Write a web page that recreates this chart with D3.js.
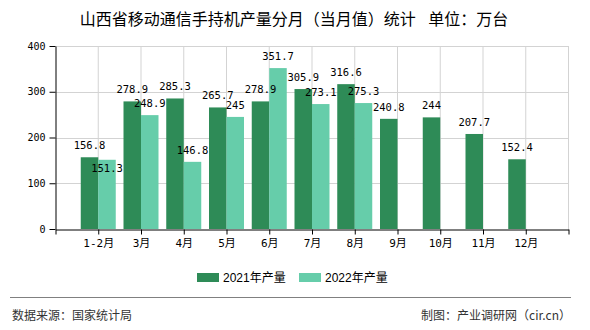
<!DOCTYPE html>
<html>
<head>
<meta charset="utf-8">
<script src="https://cdn.jsdelivr.net/npm/d3@7"></script>
<style>
  html, body { margin: 0; padding: 0; background: #fff; }
  svg { display: block; }
</style>
</head>
<body>
<svg id="chart" width="590" height="330"></svg>
<script>
const categories = ["1-2月","3月","4月","5月","6月","7月","8月","9月","10月","11月","12月"];
const values2021 = [156.8, 278.9, 285.3, 265.7, 278.9, 305.9, 316.6, 240.8, 244, 207.7, 152.4];
const values2022 = [151.3, 248.9, 146.8, 245, 351.7, 273.1, 275.3, null, null, null, null];
const seriesNames = ["2021年产量", "2022年产量"];
const seriesColors = ["#2e8b57", "#66cdaa"];
const yTicks = [0, 100, 200, 300, 400];
const titleParts = ["山西省移动通信手持机产量分月（当月值）统计", " 单位：万台"];
const sourceText = "数据来源：国家统计局";
const creditText = "制图：产业调研网（cir.cn）";

const svg = d3.select("#chart");
const plotL = 55.5, plotR = 568.5, plotT = 46, plotB = 229;

const x = d3.scalePoint().domain(["__s", ...categories, "__e"]).range([plotL, plotR]);
const y = d3.scaleLinear().domain([0, 400]).range([plotB, plotT]);
const sub = d3.scaleBand().domain(seriesNames).range([-17.5, 17.5]).padding(0);

// title
const title = svg.append("text").attr("x", 294).attr("y", 25).attr("text-anchor", "middle")
  .attr("xml:space", "preserve").style("white-space", "pre")
  .style("font-family", "'Noto Sans CJK SC', sans-serif").style("font-size", "16px")
  .attr("fill", "#000");
title.append("tspan").text(titleParts[0]);
title.append("tspan").attr("dx", 9).text(titleParts[1]);

// gridlines
const grid = svg.append("g");
grid.selectAll("line.h").data(yTicks.filter(d => d > 0)).join("line")
  .attr("x1", plotL).attr("x2", plotR)
  .attr("y1", d => Math.round(y(d)) + 0.5).attr("y2", d => Math.round(y(d)) + 0.5)
  .attr("stroke", "#d3d3d3").attr("stroke-width", 1);
grid.selectAll("line.v").data(x.domain().slice(1)).join("line")
  .attr("x1", d => x(d)).attr("x2", d => x(d))
  .attr("y1", plotT).attr("y2", plotB)
  .attr("stroke", "#d3d3d3").attr("stroke-width", 1);

// bars
const rows = categories.map((c, i) => ({ cat: c, vals: [values2021[i], values2022[i]] }));
const barsG = svg.append("g");
rows.forEach(r => {
  r.vals.forEach((v, k) => {
    if (v == null) return;
    barsG.append("rect")
      .attr("x", x(r.cat) + sub(seriesNames[k]))
      .attr("width", sub.bandwidth())
      .attr("y", y(v))
      .attr("height", y(0) - y(v))
      .attr("fill", seriesColors[k]);
  });
});

// axes
const labelFont = "'DejaVu Sans Mono', 'Noto Sans CJK SC', monospace";
const yAxis = svg.append("g").attr("transform", `translate(${plotL},0)`)
  .call(d3.axisLeft(y).tickValues(yTicks).tickSize(6).tickSizeOuter(0).tickPadding(4));
yAxis.selectAll("text").style("font-family", labelFont).style("font-size", "10px").attr("fill", "#000");
yAxis.selectAll("line,path").attr("stroke", "#000");

const xAxis = svg.append("g").attr("transform", `translate(0,${plotB + 0.5})`)
  .call(d3.axisBottom(x).tickSize(5).tickSizeOuter(0).tickPadding(5)
    .tickFormat(d => d.startsWith("__") ? "" : d));
xAxis.selectAll("text").style("font-family", labelFont).style("font-size", "11px").attr("fill", "#000");
xAxis.selectAll("line,path").attr("stroke", "#000");

// value labels with simple overlap avoidance
const labG = svg.append("g").style("font-family", labelFont).style("font-size", "10.5px");
const charW = 6.3, capH = 8;
rows.forEach(r => {
  const boxes = [];
  r.vals.forEach((v, k) => {
    if (v == null) return;
    const cx = x(r.cat) + sub(seriesNames[k]) + sub.bandwidth() / 2;
    const txt = String(v);
    const w = txt.length * charW;
    let base = y(v) - 8;
    const box = () => ({ x0: cx - w / 2, x1: cx + w / 2, y0: base - capH, y1: base });
    let b = box();
    const hit = boxes.some(o => b.x0 < o.x1 && b.x1 > o.x0 && b.y0 < o.y1 && b.y1 > o.y0);
    if (hit) { base = y(v) + 12; b = box(); }
    boxes.push(b);
    labG.append("text").attr("x", cx).attr("y", base).attr("text-anchor", "middle")
      .attr("fill", "#000").text(txt);
  });
});

// legend
const legendX = [197, 299];
const lg = svg.append("g");
seriesNames.forEach((n, k) => {
  lg.append("rect").attr("x", legendX[k]).attr("y", 273).attr("width", 22).attr("height", 9)
    .attr("fill", seriesColors[k]);
  lg.append("text").attr("x", legendX[k] + 26).attr("y", 282)
    .style("font-family", "'Liberation Sans', 'Noto Sans CJK SC', sans-serif").style("font-size", "12px")
    .attr("fill", "#000").text(n);
});

// footer
svg.append("line").attr("x1", 10).attr("x2", 571).attr("y1", 297.5).attr("y2", 297.5)
  .attr("stroke", "#808080").attr("stroke-width", 1);
svg.append("text").attr("x", 12).attr("y", 320)
  .style("font-family", "'Noto Sans CJK SC', sans-serif").style("font-size", "12px")
  .attr("fill", "#333").text(sourceText);
svg.append("text").attr("x", 571).attr("y", 320).attr("text-anchor", "end")
  .style("font-family", "'Noto Sans CJK SC', sans-serif").style("font-size", "12px")
  .attr("fill", "#333").text(creditText);
</script>
</body>
</html>
